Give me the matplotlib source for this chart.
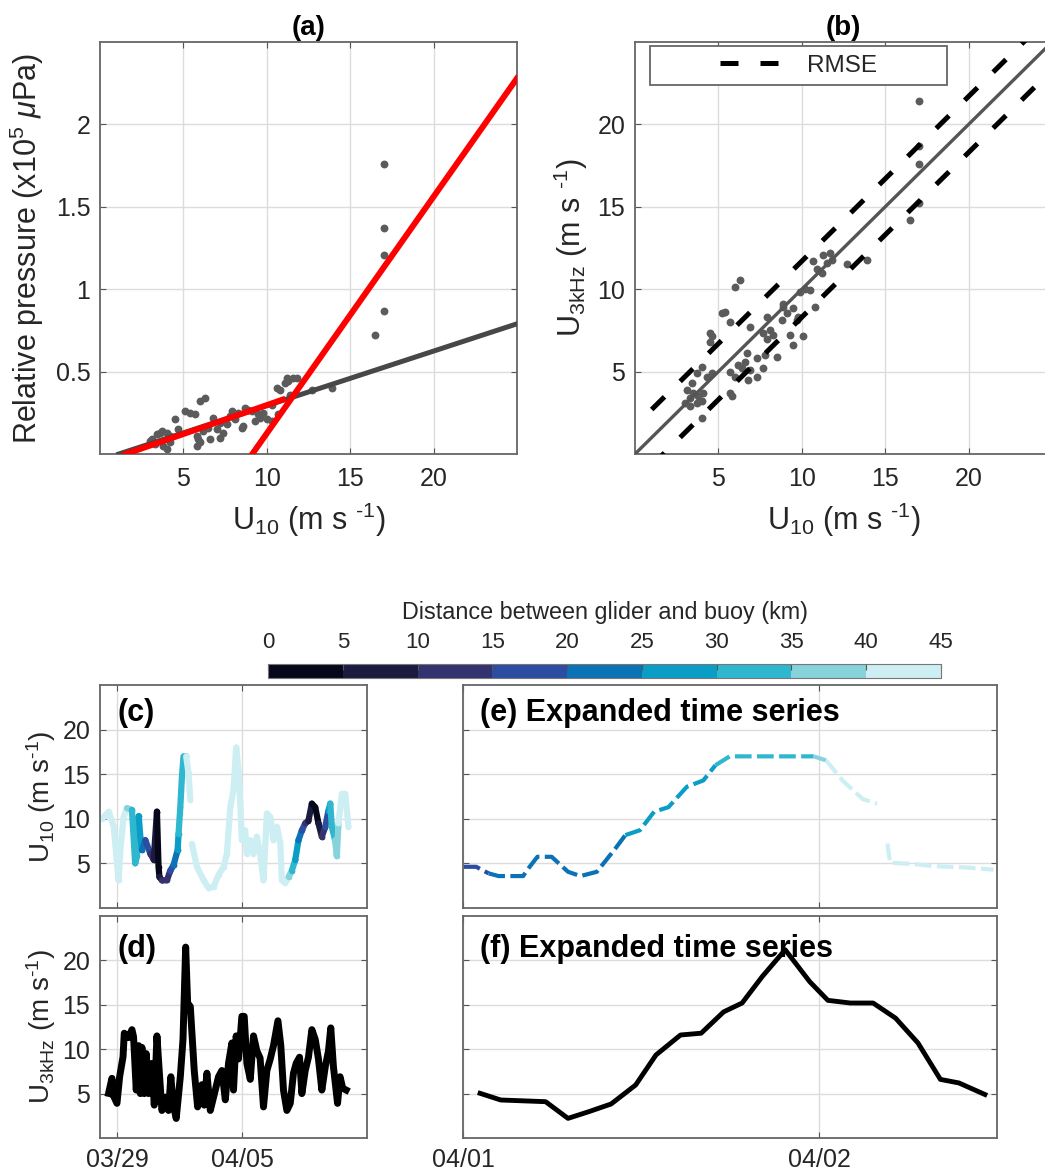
import numpy as np
import matplotlib
matplotlib.use("Agg")
import matplotlib.pyplot as plt
import matplotlib.dates as mdates
from matplotlib.colors import ListedColormap, BoundaryNorm
from matplotlib.cm import ScalarMappable
from matplotlib.legend_handler import HandlerLine2D

nan = np.nan

# (a) relative pressure vs U10
a_u10 = [3.1, 3.4, 3.7, 4.0, 4.2, 4.5, 4.7, 5.1, 5.4, 5.7, 6.0, 6.3, 5.8, 5.9, 6.2,
         6.5, 6.8, 7.0, 7.2, 7.4, 7.6, 7.8, 7.9, 8.1, 8.3, 8.5, 8.7, 8.9, 9.1, 9.3,
         9.5, 9.8, 10.0, 10.3, 10.6, 10.8, 11.1, 11.3, 11.2, 11.6, 11.4, 12.7, 13.9,
         3.0, 3.6, 4.0, 4.2, 3.3, 3.8, 6.0, 5.8, 6.6, 7.2, 8.6, 9.6, 10.3, 10.7, 11.8,
         16.5, 17.0, 17.0, 17.0, 17.0]
a_press = [0.09, 0.12, 0.14, 0.13, 0.11, 0.21, 0.15, 0.26, 0.25, 0.24, 0.32, 0.34, 0.11, 0.09, 0.14,
           0.16, 0.22, 0.15, 0.19, 0.13, 0.18, 0.23, 0.26, 0.21, 0.25, 0.16, 0.28, 0.27, 0.26, 0.20,
           0.24, 0.25, 0.21, 0.30, 0.40, 0.39, 0.43, 0.44, 0.46, 0.46, 0.36, 0.39, 0.40,
           0.08, 0.13, 0.03, 0.07, 0.06, 0.05, 0.07, 0.05, 0.09, 0.10, 0.17, 0.22, 0.20, 0.24, 0.46,
           0.72, 0.87, 1.21, 1.37, 1.76]
a_fit_x = [1.13, 25.0]
a_fit_y = [0.0, 0.79]
a_red_lo_x = [1.54, 10.95]
a_red_lo_y = [0.0, 0.33]
a_red_hi_x = [9.13, 25.0]
a_red_hi_y = [0.0, 2.28]

# (b) U3kHz vs U10
b_u10 = [11.26, 11.7, 10.7, 11.5, 11.8, 10.9, 11.2, 10.5, 10.8, 6.3, 6.0, 5.2, 5.4, 5.7, 4.5,
         4.6, 4.5, 6.9, 7.9, 8.1, 7.7, 8.9, 9.1, 8.8, 9.5, 9.8, 9.7, 9.3, 10.1, 9.46,
         8.5, 7.8, 7.3, 6.7, 6.6, 6.4, 6.9, 7.3, 6.8, 5.7, 6.0, 6.2, 7.7, 4.0, 3.7,
         4.3, 4.6, 3.4, 3.1, 3.5, 3.8, 4.0, 3.0, 4.1, 5.7, 5.8, 3.3, 3.7,
         12.7, 13.9, 16.5, 17.0, 17.0, 17.0, 17.0, 4.0, 3.3, 9.9, 10.2, 8.9, 7.9, 8.3]
b_u3k = [12.08, 12.2, 11.7, 11.6, 11.8, 11.2, 11.0, 9.96, 8.9, 10.57, 10.16, 8.54, 8.64, 8.04, 7.33,
         7.13, 6.8, 7.73, 8.34, 7.53, 7.33, 8.95, 8.54, 8.14, 8.85, 8.34, 8.14, 7.23, 7.13, 6.62,
         5.9, 6.0, 5.8, 6.1, 5.6, 5.2, 5.1, 4.7, 4.5, 5.0, 4.7, 5.4, 5.2, 5.3, 4.9,
         4.7, 4.9, 4.3, 3.9, 3.7, 3.5, 3.2, 3.1, 3.7, 3.7, 3.5, 3.4, 3.1,
         11.5, 11.8, 14.2, 15.25, 17.6, 18.7, 21.4, 2.2, 2.9, 9.8, 10.0, 9.1, 7.0, 7.2]
b_line = [0.0, 25.0]
b_rmse_x = [1.0, 25.0]
b_rmse = 1.7

# distance classes (km) and colours
dist_bounds = [0, 5, 10, 15, 20, 25, 30, 35, 40, 45]
dist_colors = ['#07071a', '#1b1b40', '#34336f', '#2c4ea2', '#0b72b5',
               '#0a9ec7', '#2eb7cf', '#86d3dc', '#cdeff3']

# (c) U10 at buoy, days after 03/29, coloured by distance (km)
c_t = [-0.86, -0.48, -0.2, 0.07, 0.17, 0.35, 0.54, 0.82, 1.0, 1.1, 1.2, 1.29, 1.38, 1.57, 1.85,
       2.04, 2.22, 2.31, 2.36, 2.5, 2.78, 2.97, 3.15, 3.38, 3.43, 3.53, 3.62, 3.71, 3.86, 3.99,
       4.09, nan, 4.18, 4.46, 4.84, 5.12, 5.4, 5.67, 5.95, 6.14, 6.33, 6.51, 6.66, 6.79, 6.88,
       6.98, 7.16, 7.26, 7.45, 7.63, 7.82, 8.0, 8.19, 8.38, 8.57, 8.75, 8.94, 9.13, 9.22, 9.41,
       9.6, 9.78, 9.97, 10.15, 10.34, 10.53, 10.71, 10.9, 11.09, 11.27, 11.46, 11.65, 11.83, 11.93, 12.02,
       12.2, 12.3, 12.39, 12.58, 12.77, 12.95]
c_u10 = [10.0, 10.8, 9.1, 3.1, 6.5, 10.2, 11.2, 11.0, 5.0, 5.8, 10.3, 8.0, 6.5, 7.6, 6.1,
         5.4, 10.8, 4.6, 3.5, 3.1, 3.1, 4.2, 4.8, 6.5, 8.3, 11.3, 14.7, 17.0, 17.0, 15.1,
         12.1, nan, 7.2, 4.6, 3.1, 2.2, 2.4, 3.7, 4.6, 6.1, 11.3, 13.2, 18.0, 15.4, 12.1,
         7.6, 8.7, 6.1, 7.6, 6.1, 8.0, 6.1, 3.1, 10.6, 10.2, 7.6, 9.1, 7.3, 3.1, 2.8,
         3.5, 4.2, 5.4, 7.6, 8.7, 9.5, 9.8, 11.7, 11.3, 9.5, 8.0, 9.1, 10.9, 11.7, 9.1,
         7.6, 5.8, 9.5, 12.8, 12.8, 9.1]
c_dist = [42.5, 42.5, 42.5, 42.5, 42.5, 42.5, 37.5, 32.5, 32.5, 32.5, 27.5, 27.5, 22.5, 17.5, 12.5,
          7.5, 2.5, 2.5, 7.5, 12.5, 12.5, 17.5, 22.5, 27.5, 32.5, 32.5, 32.5, 32.5, 42.5, 42.5,
          42.5, 42.5, 42.5, 42.5, 42.5, 42.5, 42.5, 42.5, 42.5, 42.5, 42.5, 42.5, 42.5, 42.5, 42.5,
          42.5, 42.5, 42.5, 42.5, 42.5, 42.5, 42.5, 42.5, 42.5, 42.5, 42.5, 42.5, 42.5, 42.5, 42.5,
          37.5, 32.5, 27.5, 22.5, 17.5, 12.5, 7.5, 2.5, 2.5, 7.5, 12.5, 17.5, 27.5, 32.5, 32.5,
          37.5, 37.5, 42.5, 42.5, 42.5, 42.5]

# (d) U3kHz from glider, days after 03/29
d_t = [-0.49, -0.3, -0.2, -0.02, 0.13, 0.32, 0.39, 0.63, 0.82, 0.91, 1.06, 1.2, 1.29, 1.38, 1.51,
       1.62, 1.75, 1.94, 2.07, 2.22, 2.37, 2.5, 2.69, 2.87, 3.0, 3.12, 3.3, 3.53, 3.68, 3.83,
       3.94, 4.09, 4.31, 4.5, 4.74, 4.87, 5.02, 5.21, 5.49, 5.67, 5.86, 6.05, 6.23, 6.42, 6.51,
       6.66, 6.79, 6.98, 7.11, 7.26, 7.45, 7.63, 7.82, 8.0, 8.19, 8.38, 8.57, 8.75, 9.0, 9.16,
       9.31, 9.5, 9.69, 9.87, 10.02, 10.21, 10.34, 10.53, 10.71, 10.9, 11.09, 11.27, 11.46, 11.65, 11.83,
       11.96, 12.11, 12.34, 12.48, 12.63, 12.82]
d_u3k = [5.03, 6.72, 4.7, 3.9, 6.9, 9.14, 11.8, 11.3, 12.2, 11.4, 5.4, 10.4, 5.0, 10.2, 5.0,
         9.5, 5.0, 8.4, 3.7, 11.5, 6.9, 3.1, 4.6, 3.1, 6.9, 3.9, 2.2, 6.9, 11.1, 21.5,
         15.2, 14.8, 7.6, 3.5, 6.0, 3.7, 7.3, 3.1, 5.4, 6.9, 7.6, 4.3, 8.4, 10.7, 5.4,
         11.5, 8.9, 13.7, 13.7, 8.4, 6.6, 11.5, 9.8, 9.0, 3.5, 7.6, 8.9, 10.4, 13.2, 10.4,
         5.4, 3.1, 3.9, 7.3, 8.4, 9.1, 5.0, 7.6, 9.1, 12.2, 11.1, 8.9, 5.4, 8.0, 9.8,
         12.4, 8.0, 3.9, 6.9, 5.6, 5.4]

# (e) expanded U10, days after 04/01
e_t = [0.002, 0.037, 0.072, 0.10, 0.169, 0.18, 0.209, 0.249, 0.295, 0.33, 0.376, 0.428,
       0.456, 0.497, 0.537, 0.577, 0.629, 0.675, 0.709, 0.749, 0.985, 1.02, 1.066, 1.123,
       1.163, nan, 1.192, 1.196, 1.2, 1.272, 1.318, 1.41, 1.49]
e_u10 = [4.62, 4.62, 3.88, 3.58, 3.58, 4.25, 5.74, 5.74, 4.06, 3.58, 4.06, 6.67,
         8.17, 8.72, 10.8, 11.3, 13.6, 14.3, 16.0, 17.0, 17.0, 16.55, 14.3, 12.2,
         11.7, nan, 7.23, 6.1, 5.07, 4.92, 4.7, 4.55, 4.3]
e_dist = [17.5, 17.5, 22.5, 22.5, 22.5, 22.5, 22.5, 22.5, 22.5, 22.5, 22.5, 22.5,
          27.5, 27.5, 27.5, 27.5, 27.5, 27.5, 32.5, 32.5, 37.5, 42.5, 42.5, 42.5,
          42.5, 42.5, 42.5, 42.5, 42.5, 42.5, 42.5, 42.5, 42.5]

# (f) expanded U3kHz, days after 04/01
f_t = [0.048, 0.106, 0.232, 0.295, 0.353, 0.416, 0.485, 0.542, 0.611, 0.669, 0.732, 0.784,
       0.841, 0.905, 0.974, 1.025, 1.088, 1.152, 1.215, 1.278, 1.341, 1.393, 1.466]
f_u3k = [5.03, 4.28, 4.09, 2.21, 2.96, 3.83, 5.97, 9.35, 11.6, 11.8, 14.2, 15.2,
         18.2, 21.2, 17.6, 15.5, 15.2, 15.2, 13.5, 10.7, 6.6, 6.2, 4.9]

plt.rcParams['font.family'] = ['Liberation Sans', 'DejaVu Sans']
plt.rcParams['mathtext.fontset'] = 'custom'
plt.rcParams['mathtext.rm'] = 'Liberation Sans'
plt.rcParams['mathtext.it'] = 'Liberation Sans:italic'
plt.rcParams['mathtext.bf'] = 'Liberation Sans:bold'
plt.rcParams['text.color'] = '#262626'
plt.rcParams['axes.labelcolor'] = '#262626'

cmap = ListedColormap(dist_colors)
norm = BoundaryNorm(dist_bounds, cmap.N)

W, H = 1045, 1173
fig = plt.figure(figsize=(W / 100, H / 100), dpi=100)

HY = '\u2010'  # short hyphen, as in the original labels
U10 = r'U$_{\mathrm{10}}$ (m s $^{' + HY + r'1}$)'
U10_tight = r'U$_{\mathrm{10}}$ (m s$^{' + HY + r'1}$)'
U3K = r'U$_{\mathrm{3kHz}}$ (m s $^{' + HY + r'1}$)'
U3K_tight = r'U$_{\mathrm{3kHz}}$ (m s$^{' + HY + r'1}$)'


def box(l, t, r, b):
    return fig.add_axes([l / W, 1 - b / H, (r - l) / W, (b - t) / H])


def style(ax, fs=18):
    ax.set_axisbelow(True)
    ax.grid(True, color='#dcdcdc', linewidth=1.0)
    ax.tick_params(direction='in', top=True, right=True, length=4, width=0.8,
                   color='#555555', labelcolor='#262626', labelsize=fs)
    for sp in ax.spines.values():
        sp.set_color('#666666')
        sp.set_linewidth(1.3)


def colored_path(ax, t, u, d, **kw):
    t, u, d = np.asarray(t), np.asarray(u), np.asarray(d)
    edges = [0] + [i for i in range(1, len(d)) if d[i] != d[i - 1]] + [len(d) - 1]
    for s, e in zip(edges[:-1], edges[1:]):
        ax.plot(t[s:e + 1], u[s:e + 1], color=cmap(norm(d[s])), **kw)


class RightLine(HandlerLine2D):
    def get_xdata(self, legend, xdescent, ydescent, width, height, fontsize):
        x = -xdescent + np.array([0.48, 0.96]) * width
        return x, x


# ---- (a) ----
ax_a = box(100, 42, 517, 454)
style(ax_a)
ax_a.scatter(a_u10, a_press, s=32, color='#5b5b5b', lw=0, zorder=2)
ax_a.plot(a_fit_x, a_fit_y, color='#474747', lw=3.6, zorder=3)
ax_a.plot(a_red_lo_x, a_red_lo_y, color='red', lw=4.3, zorder=4)
ax_a.plot(a_red_hi_x, a_red_hi_y, color='red', lw=4.3, zorder=4)
ax_a.set_xlim(0, 25)
ax_a.set_ylim(0, 2.5)
ax_a.set_xticks([5, 10, 15, 20])
ax_a.set_yticks([0.5, 1, 1.5, 2])
ax_a.set_yticklabels(['0.5', '1', '1.5', '2'])
ax_a.tick_params(axis='x', pad=9)
ax_a.tick_params(axis='y', pad=7)
ax_a.set_title('(a)', fontsize=20, fontweight='bold', pad=5, color='k')
ax_a.set_xlabel(U10, fontsize=22, labelpad=7)
ax_a.set_ylabel(r'Relative pressure (x10$^{5}$ $\mu$Pa)', fontsize=22, labelpad=7)

# ---- (b) ----
ax_b = box(635, 42, 1052, 454)
style(ax_b)
ax_b.scatter(b_u10, b_u3k, s=32, color='#5b5b5b', lw=0, zorder=2)
ax_b.plot(b_line, b_line, color='#555555', lw=2.4, zorder=3)
rx = np.array(b_rmse_x)
up, = ax_b.plot(rx, rx + b_rmse, color='k', lw=3.6, ls=(0, (3.6, 4.4)), zorder=4)
ax_b.plot(rx, rx - b_rmse, color='k', lw=3.6, ls=(0, (3.6, 4.4)), zorder=4)
ax_b.set_xlim(0, 25)
ax_b.set_ylim(0, 25)
ax_b.set_xticks([5, 10, 15, 20])
ax_b.set_yticks([5, 10, 15, 20])
ax_b.tick_params(axis='x', pad=9)
ax_b.tick_params(axis='y', pad=7)
ax_b.set_title('(b)', fontsize=20, fontweight='bold', pad=5, color='k')
ax_b.set_xlabel(U10, fontsize=22, labelpad=7)
ax_b.set_ylabel(U3K, fontsize=22, labelpad=5)
leg = ax_b.legend([up], ['RMSE'], loc='upper left', bbox_to_anchor=(0.036, 0.0, 0.712, 0.99),
                  mode='expand', borderaxespad=0, fontsize=17.5, handlelength=5.3,
                  handletextpad=0.8, borderpad=0.35, fancybox=False, framealpha=1,
                  edgecolor='#666666', handler_map={up: RightLine()})
leg.get_frame().set_linewidth(1.3)

# ---- colorbar ----
cax = box(268, 664, 941, 678)
cb = fig.colorbar(ScalarMappable(norm=norm, cmap=cmap), cax=cax,
                  orientation='horizontal', ticks=dist_bounds)
cax.xaxis.set_ticks_position('top')
cax.xaxis.set_label_position('top')
cax.tick_params(direction='in', length=4, labelsize=16, pad=8, color='#555555',
                labelcolor='#262626')
cb.set_label('Distance between glider and buoy (km)', fontsize=16.8, labelpad=9)
cb.outline.set_edgecolor('#777777')

# ---- time series ----
day03 = mdates.date2num(np.datetime64('2019-03-29T00:00'))
day04 = mdates.date2num(np.datetime64('2019-04-01T00:00'))

ax_c = box(100, 685, 367, 908)
ax_d = box(100, 916, 367, 1138)
ax_e = box(463, 685, 997, 908)
ax_f = box(463, 916, 997, 1138)

colored_path(ax_c, day03 + np.array(c_t), c_u10, c_dist, lw=4.5,
             solid_capstyle='round', marker='o', ms=4, mew=0)
ax_d.plot(day03 + np.array(d_t), d_u3k, color='k', lw=5, solid_joinstyle='round')
colored_path(ax_e, day04 + np.array(e_t), e_u10, e_dist, lw=3.0, ls=(0, (4, 1.3)))
ax_f.plot(day04 + np.array(f_t), f_u3k, color='k', lw=3.5)

for ax in (ax_c, ax_d):
    ax.set_xlim(day03 - 0.97, day03 + 13.99)
    ax.set_xticks([day03, day03 + 7])
for ax in (ax_e, ax_f):
    ax.set_xlim(day04, day04 + 1.5)
    ax.set_xticks([day04, day04 + 1])
for ax in (ax_c, ax_d, ax_e, ax_f):
    style(ax)
    ax.set_ylim(0, 25)
    ax.set_yticks([5, 10, 15, 20])
    ax.xaxis.set_major_formatter(mdates.DateFormatter('%m/%d'))
    ax.tick_params(axis='x', pad=7)
    ax.tick_params(axis='y', pad=7)
for ax in (ax_c, ax_e):
    ax.tick_params(labelbottom=False)
for ax in (ax_e, ax_f):
    ax.tick_params(labelleft=False)

ax_c.set_ylabel(U10_tight, fontsize=20, labelpad=3)
ax_d.set_ylabel(U3K_tight, fontsize=20, labelpad=3)

ax_c.text(0.067, 0.875, '(c)', transform=ax_c.transAxes, fontsize=22,
          fontweight='bold', va='center', color='k')
ax_d.text(0.067, 0.85, '(d)', transform=ax_d.transAxes, fontsize=22,
          fontweight='bold', va='center', color='k')
ax_e.text(0.032, 0.875, '(e) Expanded time series', transform=ax_e.transAxes,
          fontsize=22, fontweight='bold', va='center', color='k')
ax_f.text(0.032, 0.85, '(f) Expanded time series', transform=ax_f.transAxes,
          fontsize=22, fontweight='bold', va='center', color='k')

fig.savefig('out.png', dpi=100)
